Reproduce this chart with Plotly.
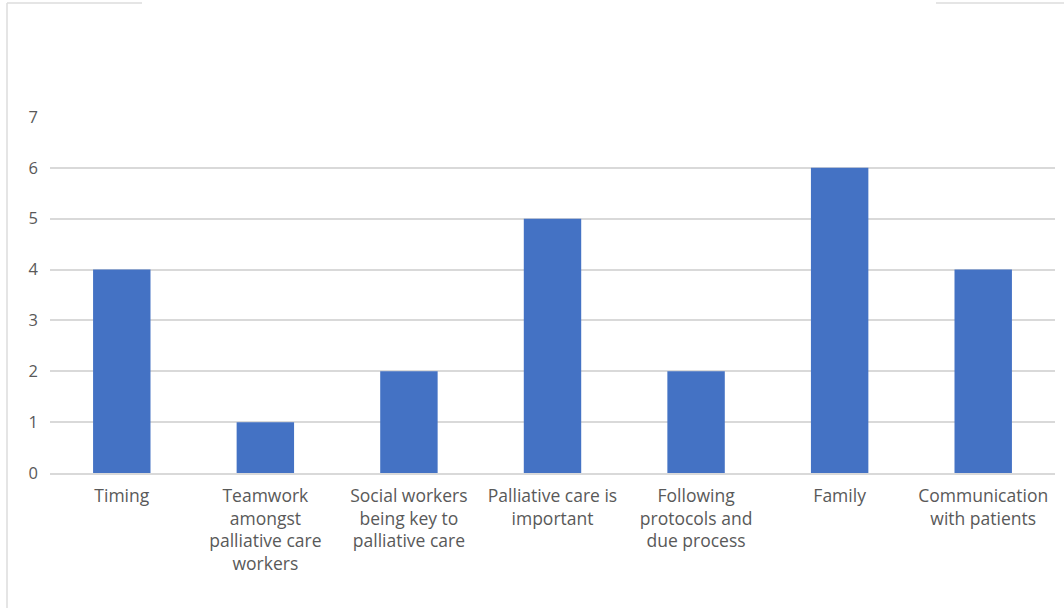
import plotly.graph_objects as go

categories = [
    "Timing",
    "Teamwork<br>amongst<br>palliative care<br>workers",
    "Social workers<br>being key to<br>palliative care",
    "Palliative care is<br>important",
    "Following<br>protocols and<br>due process",
    "Family",
    "Communication<br>with patients",
]
counts = [4, 1, 2, 5, 2, 6, 4]
y_ticks = [0, 1, 2, 3, 4, 5, 6, 7]

text_color = "#595959"
grid_color = "#d9d9d9"
font_family = "Open Sans, Noto Sans, sans-serif"

fig = go.Figure(
    go.Bar(
        x=categories,
        y=counts,
        marker=dict(color="#4472C4", line=dict(width=0)),
        hoverinfo="x+y",
    )
)

fig.update_layout(
    width=1064,
    height=608,
    margin=dict(l=50, r=9, t=117, b=135),
    paper_bgcolor="white",
    plot_bgcolor="white",
    bargap=0.6,
    showlegend=False,
    font=dict(family=font_family, color=text_color, size=17),
)

fig.update_xaxes(
    showgrid=False,
    showline=True,
    linecolor=grid_color,
    linewidth=1.5,
    ticks="",
    ticklabelstandoff=6,
    tickfont=dict(size=17.5, color=text_color),
    tickangle=0,
)

fig.update_yaxes(
    range=[0, 7],
    tickvals=y_ticks,
    showgrid=True,
    gridcolor=grid_color,
    gridwidth=1.5,
    zeroline=False,
    showline=False,
    ticks="",
    ticklabelstandoff=11,
    tickfont=dict(size=16.5, color=text_color),
)

# thin frame fragments around the chart area
frame = dict(type="line", xref="paper", yref="paper",
             line=dict(color="#dcdcdc", width=1.5))
x_left = (7 - 50) / 1005
y_top = (473 - 3) / 356
y_bottom = (473 - 608) / 356
fig.add_shape(x0=x_left, x1=x_left, y0=y_bottom, y1=y_top, **frame)
fig.add_shape(x0=x_left, x1=(142 - 50) / 1005, y0=y_top, y1=y_top, **frame)
fig.add_shape(x0=(936 - 50) / 1005, x1=(1064 - 50) / 1005, y0=y_top, y1=y_top, **frame)

fig.write_html("out.html")
